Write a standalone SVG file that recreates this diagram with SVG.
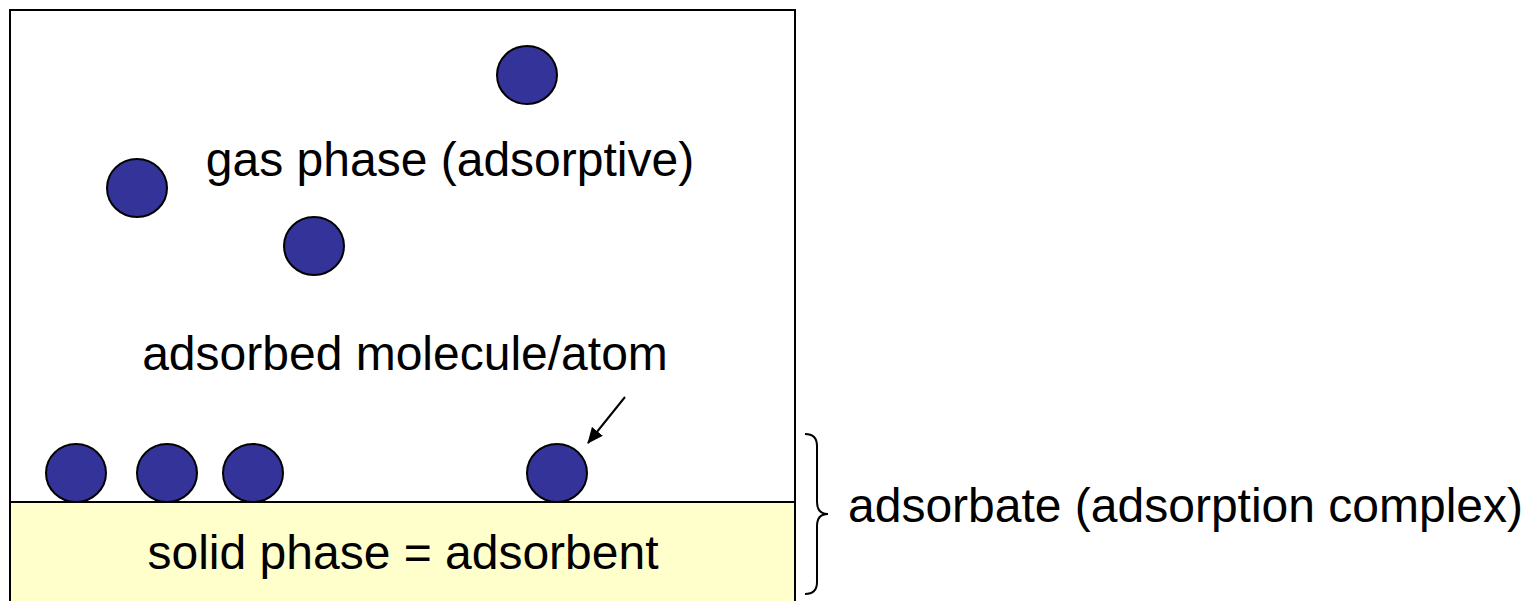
<svg xmlns="http://www.w3.org/2000/svg" width="1528" height="601" viewBox="0 0 1528 601">
<style>
.mol{fill:#333399;stroke:#000;stroke-width:2}
.t{font-family:"Liberation Sans",Arial,sans-serif;font-size:48px;fill:#000}
.ln{stroke:#000;stroke-width:2;fill:none}
</style>
<defs>
<marker id="ah" markerWidth="16" markerHeight="14" refX="15" refY="7" orient="auto" markerUnits="userSpaceOnUse" viewBox="0 0 16 14">
<path d="M0,0 L16,7 L0,14 z" fill="#000"/>
</marker>
</defs>
<rect width="1528" height="601" fill="#fff"/>
<g id="container">
<rect x="10" y="10" width="785" height="600" fill="#fff" stroke="#000" stroke-width="2"/>
</g>
<g id="solid">
<rect x="11" y="502" width="783" height="105" fill="#FFFFCC"/>
<line x1="10" y1="502" x2="795" y2="502" class="ln"/>
<line x1="10" y1="10" x2="10" y2="601" class="ln"/>
<line x1="795" y1="10" x2="795" y2="601" class="ln"/>
<text class="t" x="403" y="569" text-anchor="middle">solid phase = adsorbent</text>
</g>
<g id="gas-molecules">
<ellipse class="mol" cx="527" cy="75" rx="30" ry="29"/>
<ellipse class="mol" cx="137" cy="188" rx="30" ry="29"/>
<ellipse class="mol" cx="314" cy="246" rx="30" ry="29"/>
</g>
<g id="adsorbed-molecules">
<ellipse class="mol" cx="76" cy="473" rx="30" ry="29"/>
<ellipse class="mol" cx="167" cy="473" rx="30" ry="29"/>
<ellipse class="mol" cx="253" cy="473" rx="30" ry="29"/>
<ellipse class="mol" cx="557" cy="473" rx="30" ry="29"/>
</g>
<g id="labels">
<text class="t" x="450" y="176" text-anchor="middle">gas phase (adsorptive)</text>
<text class="t" x="405" y="370" text-anchor="middle">adsorbed molecule/atom</text>
<text class="t" x="848" y="522">adsorbate (adsorption complex)</text>
</g>
<g id="connectors">
<line x1="625" y1="397" x2="588" y2="443" class="ln" stroke-width="1.5" marker-end="url(#ah)"/>
<path d="M805,434 Q817,434 817,446 L817,502 Q817,514 828,514 Q817,514 817,526 L817,582 Q817,594 805,594" class="ln" stroke-width="1.5"/>
</g>
</svg>
